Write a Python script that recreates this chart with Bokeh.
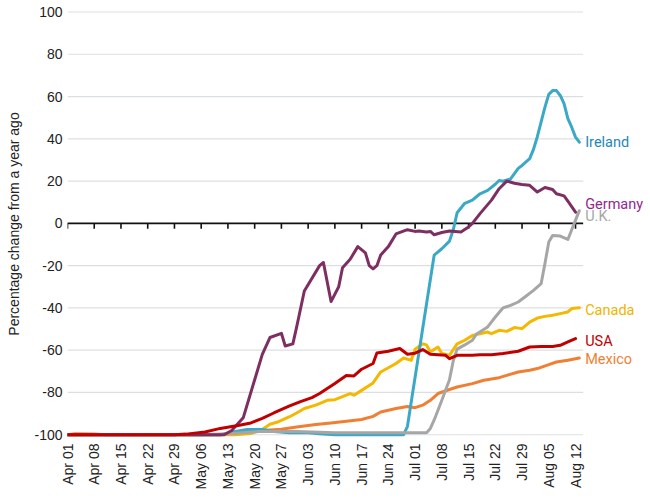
import math
import pandas as pd
from bokeh.plotting import figure
from bokeh.models import Range1d, FixedTicker, DatetimeTickFormatter
from bokeh.core.properties import value
from bokeh.embed import file_html
from bokeh.resources import INLINE

YEAR = "2020"

tick_dates = ["04-01", "04-08", "04-15", "04-22", "04-29", "05-06", "05-13", "05-20",
              "05-27", "06-03", "06-10", "06-17", "06-24", "07-01", "07-08", "07-15",
              "07-22", "07-29", "08-05", "08-12"]
y_ticks = [-100, -80, -60, -40, -20, 0, 20, 40, 60, 80, 100]

germany_dates = ["04-01", "05-12", "05-14", "05-17", "05-20", "05-22", "05-24", "05-27", "05-28",
                 "05-30", "05-31", "06-02", "06-06", "06-07", "06-09", "06-11", "06-12", "06-14",
                 "06-16", "06-18", "06-19", "06-20", "06-21", "06-22", "06-24", "06-26", "06-29",
                 "07-01", "07-02", "07-04", "07-05", "07-06", "07-08", "07-10", "07-13", "07-15",
                 "07-16", "07-18", "07-21", "07-23", "07-25", "07-27", "07-29", "07-31", "08-02",
                 "08-04", "08-06", "08-07", "08-09", "08-10", "08-12"]
germany = [-100, -100, -98, -92, -74, -62, -54, -52, -58,
           -57, -49, -32, -20, -18.5, -37, -30, -21, -17,
           -11, -14, -20, -21.5, -20, -15, -11, -5, -3,
           -3.8, -3.6, -4.1, -3.8, -5.4, -4.3, -3.6, -4.1, -1.7,
           0, 4.6, 11, 16.4, 20, 19, 18.4, 18, 14.8,
           17, 16, 14, 13, 10.5, 5.3]

ireland_dates = ["04-01", "05-11", "05-15", "05-18", "05-22", "05-25", "05-29", "06-03", "06-06",
                 "06-10", "06-28", "06-29", "07-04", "07-06", "07-08", "07-10", "07-11", "07-12",
                 "07-14", "07-16", "07-18", "07-20", "07-22", "07-23", "07-24", "07-26", "07-28",
                 "07-29", "07-31", "08-01", "08-02", "08-03", "08-04", "08-05", "08-06", "08-07",
                 "08-08", "08-09", "08-10", "08-11", "08-12", "08-13"]
ireland = [-100, -100, -98.5, -97.5, -97.5, -98.5, -99, -99, -99.5,
           -100, -100, -96, -38, -15, -12, -8.4, -3, 5,
           9.5, 11, 14, 15.6, 18.5, 20.3, 19.9, 21, 26,
           27.4, 30.6, 35, 41, 48, 55, 61, 62.8, 62.8,
           60.5, 56.6, 49.5, 45.5, 40.8, 38.4]

uk_dates = ["04-01", "05-06", "05-13", "05-21", "05-31", "06-10", "06-20", "07-02", "07-04",
            "07-05", "07-06", "07-08", "07-10", "07-11", "07-12", "07-14", "07-16", "07-17",
            "07-20", "07-22", "07-24", "07-26", "07-28", "07-30", "08-01", "08-03", "08-04",
            "08-05", "08-06", "08-08", "08-10", "08-11", "08-13"]
uk = [-100, -100, -99.5, -98.5, -98.5, -99, -99, -99, -99,
      -97, -93, -83.7, -74, -65, -59.5, -57.5, -55.3, -52.5,
      -49, -44.3, -40, -38.8, -37.2, -34.5, -31.7, -28.5, -19,
      -8.8, -5.7, -6, -7.6, -3, 6]

canada_dates = ["04-01", "05-15", "05-19", "05-22", "05-24", "05-26", "05-29", "05-31", "06-02",
                "06-05", "06-08", "06-10", "06-12", "06-14", "06-15", "06-17", "06-20", "06-22",
                "06-26", "06-28", "06-30", "07-01", "07-03", "07-04", "07-05", "07-07", "07-08",
                "07-10", "07-12", "07-14", "07-16", "07-18", "07-20", "07-21", "07-23", "07-25",
                "07-27", "07-29", "07-31", "08-02", "08-04", "08-06", "08-08", "08-10", "08-11",
                "08-13"]
canada = [-100, -100, -99.4, -97.5, -95, -94, -91.6, -89.7, -87.6,
          -86, -83.7, -83.4, -82, -80.5, -81.3, -79, -75.5, -70.3,
          -66.3, -63.7, -64.8, -59.5, -57, -57.5, -60.8, -58.5, -61.6,
          -62.4, -57, -55.3, -53, -52.2, -51.4, -52.2, -50.6, -51.1,
          -49.3, -49.8, -46.7, -44.8, -44, -43.5, -42.7, -41.9, -40.3,
          -39.9]

usa_dates = ["04-01", "04-29", "05-02", "05-07", "05-11", "05-16", "05-19", "05-22", "05-25",
             "05-29", "06-01", "06-04", "06-06", "06-10", "06-13", "06-15", "06-17", "06-20",
             "06-21", "06-24", "06-27", "06-29", "07-01", "07-03", "07-05", "07-09", "07-10",
             "07-12", "07-16", "07-18", "07-21", "07-24", "07-28", "07-31", "08-03", "08-06",
             "08-08", "08-10", "08-12"]
usa = [-100, -100, -99.7, -98.7, -97, -95.5, -94.4, -92.3, -89.7,
       -86.5, -84.3, -82.4, -80.5, -75.8, -72, -72.2, -69, -66.3,
       -61.3, -60.5, -59.2, -61.9, -61.4, -59.7, -61.9, -62.4, -64,
       -62.4, -62.4, -62.1, -62.1, -61.6, -60.5, -58.5, -58.2, -58.2,
       -57.7, -56.1, -54.5]

mexico_dates = ["04-01", "04-03", "04-08", "04-11", "05-11", "05-14", "05-23", "05-27", "05-31",
                "06-05", "06-09", "06-13", "06-17", "06-20", "06-22", "06-26", "06-29", "07-01",
                "07-03", "07-05", "07-07", "07-10", "07-12", "07-16", "07-19", "07-23", "07-25",
                "07-28", "07-31", "08-02", "08-05", "08-07", "08-10", "08-13"]
mexico = [-100, -99.5, -99.6, -100, -100, -99.4, -97.9, -97.4, -96.3,
          -95.2, -94.4, -93.6, -92.8, -91.3, -89.2, -87.6, -86.6, -87.2,
          -86, -83.7, -80.5, -78.6, -77.4, -75.8, -74.2, -73, -71.9,
          -70.3, -69.5, -68.7, -66.8, -65.6, -64.8, -63.7]

names = ["Mexico", "Canada", "Ireland", "U.K.", "Germany", "USA"]
series_dates = [mexico_dates, canada_dates, ireland_dates, uk_dates, germany_dates, usa_dates]
series_vals = [mexico, canada, ireland, uk, germany, usa]
line_colors = ["#f07f33", "#f5b800", "#3ba9c6", "#a6a6a6", "#7e2f62", "#c00000"]
label_colors = ["#f07f33", "#f0b400", "#1e88b4", "#a6a6a6", "#93278f", "#c00000"]
label_nudge = [-0.5, -1.2, 0, -2.7, 3.8, -1.5]


def ts(md):
    return pd.Timestamp(f"{YEAR}-{md}")


x_start = ts("04-01")
plot_end = ts("08-14")     # end of the drawn plot area
canvas_end = ts("08-30") + pd.Timedelta(hours=14)  # room for series labels

p = figure(width=646, height=494, output_backend="svg", toolbar_location=None,
           x_axis_type="datetime",
           x_range=Range1d(x_start, canvas_end),
           y_range=Range1d(-101.3, 100.7),
           min_border_left=67, min_border_right=0, min_border_top=10, min_border_bottom=57)
p.outline_line_color = None
p.background_fill_color = "white"
p.border_fill_color = "white"
p.xgrid.grid_line_color = None
p.ygrid.grid_line_color = None

p.yaxis.ticker = FixedTicker(ticks=y_ticks)
p.yaxis.major_label_overrides = {t: str(t) for t in y_ticks}
p.yaxis.axis_line_color = None
p.yaxis.major_tick_line_color = None
p.yaxis.minor_tick_line_color = None
p.yaxis.major_tick_out = 0
p.yaxis.major_tick_in = 0
p.yaxis.minor_tick_out = 0
p.yaxis.major_label_standoff = 5
p.yaxis.major_label_text_font = "Liberation Sans"
p.yaxis.major_label_text_font_size = "14px"
p.yaxis.major_label_text_color = "#222222"
p.yaxis.axis_label = "Percentage change from a year ago"
p.yaxis.axis_label_text_font = "Liberation Sans"
p.yaxis.axis_label_text_font_style = "normal"
p.yaxis.axis_label_text_font_size = "14px"
p.yaxis.axis_label_text_color = "#222222"
p.yaxis.axis_label_standoff = 9

tick_ms = [ts(d).value / 1e6 for d in tick_dates]
p.xaxis.ticker = FixedTicker(ticks=tick_ms)
fmt = "%b %d"
p.xaxis.formatter = DatetimeTickFormatter(milliseconds=fmt, seconds=fmt, minsec=fmt, minutes=fmt,
                                          hourmin=fmt, hours=fmt, days=fmt, months=fmt, years=fmt)
p.xaxis.major_label_orientation = math.pi / 2
p.xaxis.axis_line_color = None
p.xaxis.major_tick_line_color = None
p.xaxis.minor_tick_line_color = None
p.xaxis.major_tick_out = 0
p.xaxis.major_tick_in = 0
p.xaxis.minor_tick_out = 0
p.xaxis.major_label_standoff = 6
p.xaxis.major_label_text_font = "Liberation Sans"
p.xaxis.major_label_text_font_size = "14px"
p.xaxis.major_label_text_color = "#222222"

# horizontal grid lines limited to the plot area
grid_y = [t for t in y_ticks if t != 0]
p.segment(x0=[x_start] * len(grid_y), y0=grid_y, x1=[plot_end] * len(grid_y), y1=grid_y,
          line_color="#dcdfe2", line_width=1.2)

# zero line with weekly tick marks
p.segment(x0=[x_start], y0=[0], x1=[plot_end], y1=[0], line_color="#111111", line_width=1.6)
tick_x = [ts(d) for d in tick_dates]
p.segment(x0=tick_x, y0=[0] * len(tick_x), x1=tick_x, y1=[-2.5] * len(tick_x),
          line_color="#111111", line_width=1.6)

for dts, vals, lc in zip(series_dates, series_vals, line_colors):
    xs = [ts(d) for d in dts]
    p.line(xs, vals, line_color=lc, line_width=3, line_join="round", line_cap="round")

label_y = [vals[-1] + n for vals, n in zip(series_vals, label_nudge)]
p.text(x=[plot_end] * len(names), y=label_y, text=names, text_color=label_colors,
       x_offset=2, text_font=value("Roboto"), text_font_size=value("14.5px"),
       text_baseline="middle", text_align="left")

open("out.html", "w").write(file_html(p, INLINE))
